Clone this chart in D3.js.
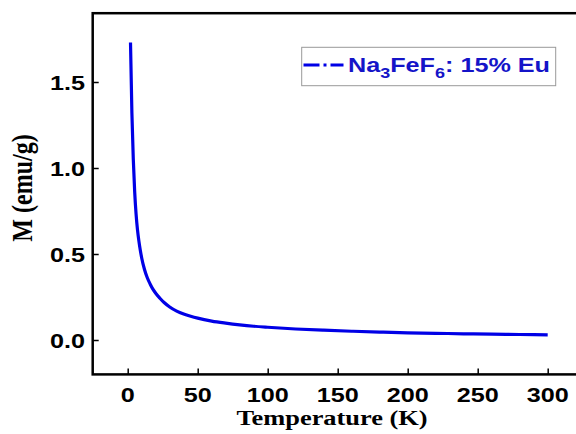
<!DOCTYPE html>
<html>
<head>
<meta charset="utf-8">
<script src="https://cdn.jsdelivr.net/npm/d3@7"></script>
<style>
html,body{margin:0;padding:0;background:#fff;overflow:hidden;}
svg{display:block;}
</style>
</head>
<body>
<svg id="chart" width="576" height="434"></svg>
<script>
// ---- data ----
const temperature = [2, 3, 4, 5, 6, 7, 8, 9, 10, 12, 14, 16, 18, 20, 23, 26, 30, 35, 40, 45, 50, 60, 70, 80, 90, 100, 120, 140, 160, 180, 200, 220, 240, 260, 280, 300];
const magnetization = [1.73, 1.32, 1.05, 0.86, 0.73, 0.64, 0.575, 0.522, 0.477, 0.41, 0.362, 0.326, 0.296, 0.272, 0.243, 0.218, 0.192, 0.168, 0.151, 0.138, 0.127, 0.11, 0.098, 0.088, 0.08, 0.074, 0.064, 0.057, 0.051, 0.046, 0.042, 0.039, 0.036, 0.034, 0.032, 0.030];
const xTicks = [0, 50, 100, 150, 200, 250, 300];
const yTicks = [0.0, 0.5, 1.0, 1.5];
const xTitle = "Temperature (K)";
const yTitle = "M (emu/g)";

const svg = d3.select("#chart");
const x = d3.scaleLinear().domain([-25, 325]).range([92.7, 582.7]);
const y = d3.scaleLinear().domain([-0.2, 1.9]).range([374.4, 13.2]);

const blue = "#0000e6";
const textBlue = "#1414c8";
const sx = 1.2;

// curve
const pts = temperature.map((t, i) => [t, magnetization[i]]);
svg.append("path")
  .datum(pts)
  .attr("fill", "none")
  .attr("stroke", blue)
  .attr("stroke-width", 3.2)
  .attr("d", d3.line().x(d => x(d[0])).y(d => y(d[1])).curve(d3.curveMonotoneX));

// axes
const gx = svg.append("g").attr("transform", `translate(0,${y(-0.2)})`)
  .call(d3.axisBottom(x).tickValues(xTicks).tickSize(-6).tickFormat(""));
const gy = svg.append("g").attr("transform", `translate(${x(-25)},0)`)
  .call(d3.axisLeft(y).tickValues(yTicks).tickSize(-6).tickFormat(""));
[gx, gy].forEach(g => {
  g.select(".domain").remove();
  g.selectAll(".tick line").attr("stroke", "#000").attr("stroke-width", 1.5);
});

// frame
svg.append("rect")
  .attr("x", x(-25)).attr("y", y(1.9))
  .attr("width", x(325) - x(-25)).attr("height", y(-0.2) - y(1.9))
  .attr("fill", "none").attr("stroke", "#000").attr("stroke-width", 2.5);

// tick labels
svg.append("g").selectAll("text").data(xTicks).join("text")
  .attr("transform", d => `translate(${x(d)},402) scale(${sx},1)`)
  .attr("text-anchor", "middle")
  .attr("font-family", "Liberation Sans, Arial, sans-serif")
  .attr("font-weight", "bold").attr("font-size", 21)
  .text(d => d);
svg.append("g").selectAll("text").data(yTicks).join("text")
  .attr("transform", d => `translate(85,${y(d) + 8}) scale(${sx},1)`)
  .attr("text-anchor", "end")
  .attr("font-family", "Liberation Sans, Arial, sans-serif")
  .attr("font-weight", "bold").attr("font-size", 21)
  .text(d => d.toFixed(1));

// axis titles
svg.append("text")
  .attr("transform", `translate(332,425) scale(${sx},1)`)
  .attr("text-anchor", "middle")
  .attr("font-family", "Liberation Serif, Times New Roman, serif")
  .attr("font-weight", "bold").attr("font-size", 22)
  .text(xTitle);
svg.append("text")
  .attr("transform", `translate(32,188) scale(${sx},1) rotate(-90)`)
  .attr("text-anchor", "middle")
  .attr("font-family", "Liberation Serif, Times New Roman, serif")
  .attr("font-weight", "bold").attr("font-size", 24)
  .text(yTitle);

// legend
const lg = svg.append("g");
lg.append("rect").attr("x", 301.7).attr("y", 47.3).attr("width", 254).attr("height", 38.4)
  .attr("fill", "#fff").attr("stroke", "#999").attr("stroke-width", 1);
lg.append("line").attr("x1", 303.5).attr("x2", 343.5).attr("y1", 65).attr("y2", 65)
  .attr("stroke", blue).attr("stroke-width", 3.2).attr("stroke-dasharray", "16,4,3,4,13");
const lt = lg.append("text")
  .attr("transform", `translate(348,72) scale(${sx},1)`)
  .attr("font-family", "Liberation Sans, Arial, sans-serif")
  .attr("font-weight", "bold").attr("font-size", 21)
  .attr("fill", textBlue);
lt.append("tspan").text("Na");
lt.append("tspan").attr("font-size", 15).attr("dy", 6).text("3");
lt.append("tspan").attr("dy", -6).text("FeF");
lt.append("tspan").attr("font-size", 15).attr("dy", 6).text("6");
lt.append("tspan").attr("dy", -6).text(": 15% Eu");
</script>
</body>
</html>
